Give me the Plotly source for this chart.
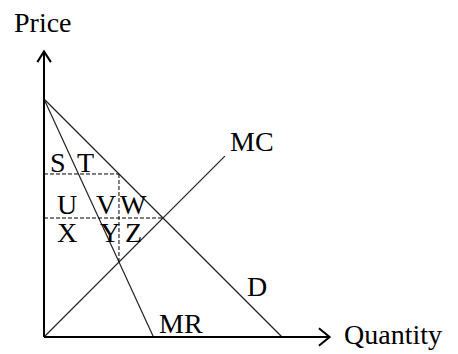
import plotly.graph_objects as go

# monopoly diagram: demand, marginal revenue, marginal cost
demand_q = [0, 10]
demand_p = [10, 0]
mr_q = [0, 4.6]
mr_p = [10, 0]
mc_q = [0, 7.6]
mc_p = [0, 7.6]

# monopoly and competitive outcomes
q_mono, p_mono = 3.15, 6.85
q_comp, p_comp = 5, 5

area_labels = ["S", "T", "U", "V", "W", "X", "Y", "Z"]
curve_labels = ["MC", "D", "MR"]
axis_titles = ["Price", "Quantity"]

FONT = "Liberation Serif, Times New Roman, serif"
PX = 23.8  # pixels per data unit

fig = go.Figure()

line_style = dict(color="#222222", width=1.2)
fig.add_trace(go.Scatter(x=demand_q, y=demand_p, mode="lines", line=line_style))
fig.add_trace(go.Scatter(x=mr_q, y=mr_p, mode="lines", line=line_style))
fig.add_trace(go.Scatter(x=mc_q, y=mc_p, mode="lines", line=line_style))

dash = dict(color="black", width=1, dash="4px,2px")
fig.add_trace(go.Scatter(x=[0, q_mono], y=[p_mono, p_mono], mode="lines", line=dash))
fig.add_trace(go.Scatter(x=[0, q_comp], y=[p_comp, p_comp], mode="lines", line=dash))
fig.add_trace(go.Scatter(x=[q_mono, q_mono], y=[q_mono, p_mono], mode="lines", line=dash))

# axes with open arrowheads
ax_len = 12
axis = dict(color="black", width=2)
fig.add_shape(type="line", x0=0, y0=0, x1=0, y1=ax_len, line=axis)
fig.add_shape(type="line", x0=0, y0=0, x1=ax_len, y1=0, line=axis)
fig.add_shape(type="path", path=f"M -0.28 {ax_len - 0.45} L 0 {ax_len} L 0.29 {ax_len - 0.45}",
              line=axis)
fig.add_shape(type="path", path=f"M {ax_len - 0.45} 0.37 L {ax_len} 0 L {ax_len - 0.45} -0.37",
              line=axis)

area_pos = [(0.59, 7.35), (1.76, 7.35), (0.97, 5.55), (2.6, 5.55), (3.74, 5.55),
            (0.95, 4.37), (2.77, 4.37), (3.78, 4.37)]
for txt, (x, y) in zip(area_labels, area_pos):
    fig.add_annotation(x=x, y=y, text=txt, showarrow=False)

curve_pos = [(8.74, 8.2), (8.97, 2.12), (5.76, 0.57)]
for txt, (x, y) in zip(curve_labels, curve_pos):
    fig.add_annotation(x=x, y=y, text=txt, showarrow=False)

fig.add_annotation(x=-0.06, y=13.2, text=axis_titles[0], showarrow=False)
fig.add_annotation(x=12.5, y=0.1, text=axis_titles[1], showarrow=False, xanchor="left")

fig.update_layout(
    width=458, height=354,
    margin=dict(l=0, r=0, t=0, b=0),
    paper_bgcolor="white", plot_bgcolor="white",
    showlegend=False,
    font=dict(family=FONT, size=28, color="black"),
    xaxis=dict(range=[-44 / PX, 414 / PX], visible=False),
    yaxis=dict(range=[-17 / PX, 337 / PX], visible=False),
)

# drop the page's default body margin so the figure sits at the top-left corner
fig.write_html("out.html", config={"displayModeBar": False},
               post_script="document.body.style.margin = '0';")
